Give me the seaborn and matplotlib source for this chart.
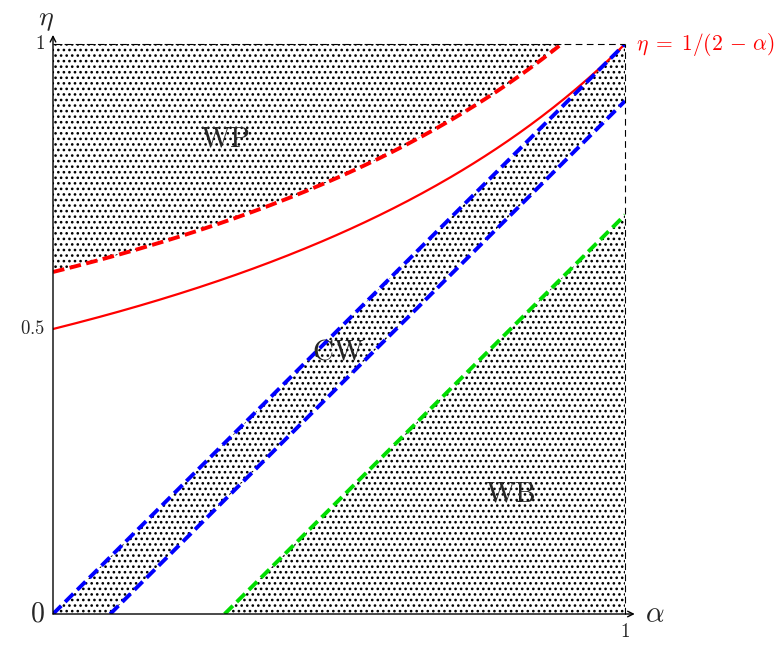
import numpy as np
import pandas as pd
import matplotlib
matplotlib.use("Agg")
import matplotlib.pyplot as plt
import seaborn as sns

# --- DATA ---
# boundary curve written on the chart: eta = 1/(2 - alpha)
alpha_grid = np.linspace(0, 1, 201)
wp_offset = 0.1                      # dashed red curve sits 0.1 above the solid one
cw_upper = [(0.0, 0.0), (1.0, 1.0)]  # blue dashed, upper edge of CW band
cw_lower = [(0.1, 0.0), (1.0, 0.9)]  # blue dashed, lower edge of CW band
wb_edge = [(0.3, 0.0), (1.0, 0.7)]   # green dashed, top edge of WB
region_names = ["WP", "CW", "WB"]
region_pos = [(0.30, 0.835), (0.498, 0.46), (0.80, 0.212)]

sns.set_style("white")
plt.rcParams["mathtext.fontset"] = "cm"
plt.rcParams["font.family"] = ["DejaVu Serif"]
plt.rcParams["hatch.linewidth"] = 1.1

fig = plt.figure(figsize=(7.84, 6.46), dpi=100)
ax = fig.add_axes([53 / 784, 32 / 646, 572 / 784, 570 / 646])
ax.set_xlim(0, 1)
ax.set_ylim(0, 1)
for s in ax.spines.values():
    s.set_visible(False)
ax.set_xticks([])
ax.set_yticks([])

eta = 1 / (2 - alpha_grid)
eta_wp = eta + wp_offset
mask = eta_wp <= 1.0
curves = pd.DataFrame({"alpha": alpha_grid, "eta": eta})
wp_df = pd.DataFrame({"alpha": alpha_grid[mask], "eta": eta_wp[mask]})

hatch_kw = dict(facecolor="none", edgecolor="black", hatch="...", linewidth=0)


def line_y(pts, x):
    (x0, y0), (x1, y1) = pts
    return y0 + (y1 - y0) * (x - x0) / (x1 - x0)


# WP region (above dashed red curve)
ax.fill_between(alpha_grid, np.minimum(eta_wp, 1.0), 1.0, **hatch_kw)
# CW band
ax.fill_between(alpha_grid, np.maximum(line_y(cw_lower, alpha_grid), 0),
                line_y(cw_upper, alpha_grid), **hatch_kw)
# WB region
ax.fill_between(alpha_grid, 0, np.maximum(line_y(wb_edge, alpha_grid), 0), **hatch_kw)

dash = (0, (3, 1.4))
sns.lineplot(data=curves, x="alpha", y="eta", ax=ax, color="red", lw=1.6)
sns.lineplot(data=wp_df, x="alpha", y="eta", ax=ax, color="red", lw=2.8, linestyle=dash)
for pts, col in [(cw_upper, "blue"), (cw_lower, "blue"), (wb_edge, "#00dd00")]:
    seg = pd.DataFrame(pts, columns=["alpha", "eta"])
    sns.lineplot(data=seg, x="alpha", y="eta", ax=ax, color=col, lw=2.8, linestyle=dash)

# frame: dashed top and right
ax.plot([0, 1], [1, 1], color="black", lw=0.8, linestyle=(0, (6, 4)), clip_on=False)
ax.plot([1, 1], [0, 1], color="black", lw=0.8, linestyle=(0, (6, 4)), clip_on=False)
# axes with arrows
arrow = dict(arrowstyle="->", color="black", lw=1.0, shrinkA=0, shrinkB=0)
ax.annotate("", xy=(1.017, 0), xytext=(0, 0), arrowprops=arrow, annotation_clip=False)
ax.annotate("", xy=(0, 1.016), xytext=(0, 0), arrowprops=arrow, annotation_clip=False)

ax.set_xlabel("")
ax.set_ylabel("")

# axis names and ticks
ax.text(1.035, 0, r"$\alpha$", fontsize=21, ha="left", va="center", clip_on=False)
ax.text(-0.012, 1.043, r"$\eta$", fontsize=20, ha="center", va="center", clip_on=False)
ax.text(-0.014, 1.0, r"$1$", fontsize=13.5, ha="right", va="center")
ax.text(-0.014, 0.5, r"$0.5$", fontsize=13.5, ha="right", va="center")
ax.text(-0.014, 0.0, r"$0$", fontsize=20, ha="right", va="center")
ax.text(1.0, -0.016, r"$1$", fontsize=13.5, ha="center", va="top")
ax.text(1.02, 1.0, r"$\eta\;=\;1/(2\,-\,\alpha)$", fontsize=15.5, color="red",
        ha="left", va="center")

for name, (x, y) in zip(region_names, region_pos):
    ax.text(x, y, r"$\mathrm{%s}$" % name, fontsize=21, ha="center", va="center")

fig.savefig("out.png", dpi=100)
